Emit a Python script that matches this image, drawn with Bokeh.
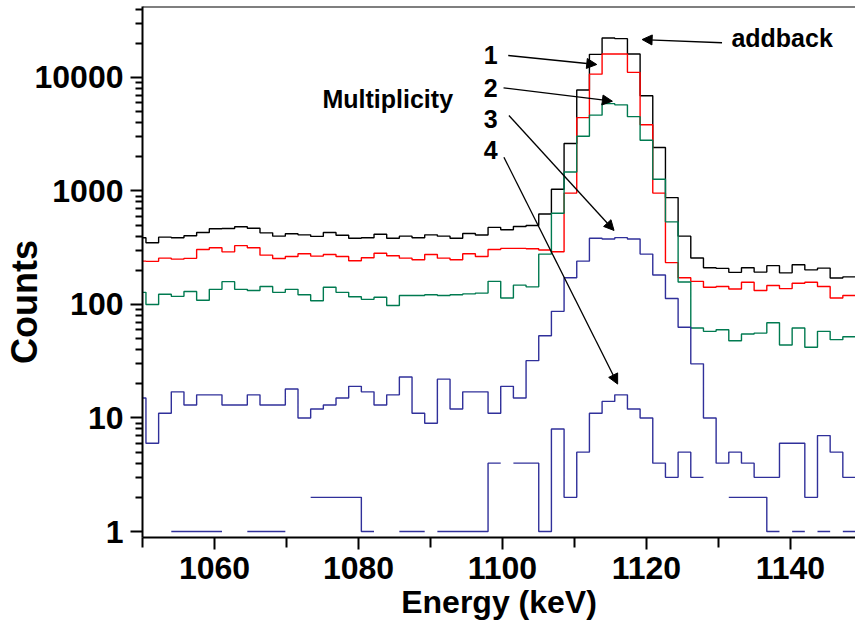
import numpy as np
from bokeh.plotting import figure
from bokeh.models import Range1d, FixedTicker, NumeralTickFormatter, Label, Arrow, NormalHead, Span
from bokeh.embed import file_html
from bokeh.resources import INLINE

# ---- binning of the spectra (keV) ----
BIN_START = 1048.72
BIN_WIDTH = 1.76

# ---- counts per bin ----
addback = [387, 350, 392, 387, 403, 431, 465, 468, 484, 470,
           428, 400, 420, 411, 398, 431, 408, 384, 387, 416,
           384, 400, 387, 411, 400, 384, 422, 410, 478, 455,
           487, 497, 627, 1035, 2620, 7760, 16000, 22300, 22000, 16100,
           6900, 2420, 875, 400, 257, 211, 208, 192, 211, 193,
           220, 190, 224, 202, 209, 171, 175]
mult1 = [241, 240, 256, 251, 255, 305, 316, 291, 330, 316,
         272, 254, 265, 280, 267, 276, 265, 243, 258, 283,
         269, 256, 248, 276, 256, 248, 280, 265, 305, 312,
         312, 310, 302, 292, 958, 4430, 10700, 16100, 16100, 11100,
         3830, 958, 234, 172, 160, 142, 144, 137, 157, 133,
         147, 138, 154, 157, 144, 114, 120]
mult2 = [128, 100, 123, 118, 130, 109, 136, 159, 136, 133,
         144, 128, 136, 122, 108, 142, 128, 117, 111, 116,
         98, 120, 120, 122, 120, 122, 124, 126, 160, 114,
         148, 143, 278, 637, 1470, 3040, 4660, 5880, 5740, 4520,
         2800, 1270, 535, 158, 62, 58, 60, 48, 55, 56,
         69, 44, 62, 42, 58, 49, 52]
mult3 = [15, 6, 11, 17, 13, 16, 16, 13, 13, 16,
         13, 13, 18, 10, 12, 13, 15, 19, 17, 13,
         16, 23, 11, 9, 22, 12, 17, 17, 11, 19,
         15, 32, 53, 87, 172, 241, 383, 378, 388, 378,
         278, 182, 113, 63, 30, 10, 4, 5, 4, 3,
         3, 6, 6, 2, 7, 5, 3]
# None = empty bin (not drawn on the log scale)
mult4 = [None, None, None, 1, 1, 1, 1, None, None, 1,
         1, 1, None, None, 2, 2, 2, 2, 1, None,
         None, 1, 1, None, 1, 1, 1, 1, 4, None,
         4, 4, 1, 8, 2, 5, 11, 14, 16, 12,
         10, 4, 3, 5, 3, None, None, 2, 2, 2,
         1, None, 1, None, 1, None, 1]

x_ticks = [1060, 1080, 1100, 1120, 1140]
x_minor = [1050, 1070, 1090, 1110, 1130]
y_ticks = [1, 10, 100, 1000, 10000]

edges = BIN_START + BIN_WIDTH * np.arange(len(addback) + 1)


def step_runs(values):
    xs, ys, cx, cy = [], [], [], []
    for i, v in enumerate(values):
        if v is None:
            if cx:
                xs.append(cx); ys.append(cy)
            cx, cy = [], []
            continue
        cx += [float(edges[i]), float(edges[i + 1])]
        cy += [v, v]
    if cx:
        xs.append(cx); ys.append(cy)
    return xs, ys


FONT = "Liberation Sans"
Y_BOTTOM = 0.8854
Y_TOP = 42220

p = figure(width=855, height=633, y_axis_type="log",
           x_range=Range1d(1050, float(edges[-1])), y_range=Range1d(Y_BOTTOM, Y_TOP),
           output_backend="svg", toolbar_location=None, title=None,
           min_border_left=141, min_border_right=0, min_border_top=6, min_border_bottom=96)
p.outline_line_color = None
p.xgrid.visible = False
p.ygrid.visible = False
p.background_fill_color = "white"

series = [(addback, "#000000"), (mult1, "#ff0000"), (mult2, "#007a50"),
          (mult3, "#30309a"), (mult4, "#30309a")]
for vals, col in series:
    xs, ys = step_runs(vals)
    p.multi_line(xs, ys, line_color=col, line_width=1.4)

# axes
p.xaxis.ticker = FixedTicker(ticks=x_ticks, minor_ticks=x_minor)
minor_y = [k * 10 ** d for d in range(0, 5) for k in range(2, 10)]
p.yaxis.ticker = FixedTicker(ticks=y_ticks, minor_ticks=minor_y)
p.yaxis.formatter = NumeralTickFormatter(format="0")
for ax in (p.xaxis, p.yaxis):
    ax.axis_line_width = 2
    ax.major_tick_line_width = 2
    ax.minor_tick_line_width = 2
    ax.major_tick_in = 0
    ax.minor_tick_in = 0
    ax.major_tick_out = 12
    ax.major_label_text_font = FONT
    ax.major_label_text_font_style = "bold"
    ax.major_label_text_font_size = "32px"
    ax.major_label_text_color = "black"
    ax.axis_label_text_font = FONT
    ax.axis_label_text_font_style = "bold"
    ax.axis_label_text_color = "black"
p.xaxis.minor_tick_out = 10
p.yaxis.minor_tick_out = 7
p.xaxis.major_label_standoff = 7
p.yaxis.major_label_standoff = 7

p.xaxis.axis_label = "Energy (keV)"
p.xaxis.axis_label_text_font_size = "32px"
p.xaxis.axis_label_standoff = 2

# trailing no-break spaces move the visible word below the frame centre, as in the original
p.yaxis.axis_label = "Counts" + "\u00a0" * 6
p.yaxis.axis_label_text_font_size = "36px"
p.yaxis.axis_label_standoff = -13

# top frame line
p.add_layout(Span(location=Y_TOP, dimension="width", line_color="black", line_width=2))

# annotations
def lab(x, y, t):
    p.add_layout(Label(x=x, y=y, text=t, text_align="left", text_baseline="middle",
                       text_color="black", text_font=FONT, text_font_style="bold",
                       text_font_size="25px"))

lab(1131.8, 22500, "addback")
lab(1075.0, 6400, "Multiplicity")
lab(1097.4, 15630, "1")
lab(1097.4, 8110, "2")
lab(1097.4, 4325, "3")
lab(1097.4, 2275, "4")

arrows = [((1130.5, 20230), (1119.4, 21600)),
          ((1100.8, 15630), (1113.1, 13020)),
          ((1100.15, 8110), (1115.27, 6180)),
          ((1100.9, 4624), (1115.5, 449)),
          ((1100.2, 1986), (1116.0, 19.9))]
for (x0, y0), (x1, y1) in arrows:
    p.add_layout(Arrow(x_start=x0, y_start=y0, x_end=x1, y_end=y1, line_width=1.3,
                       line_color="black",
                       end=NormalHead(size=10, fill_color="black", line_color="black")))

open("out.html", "w").write(file_html(p, INLINE))
